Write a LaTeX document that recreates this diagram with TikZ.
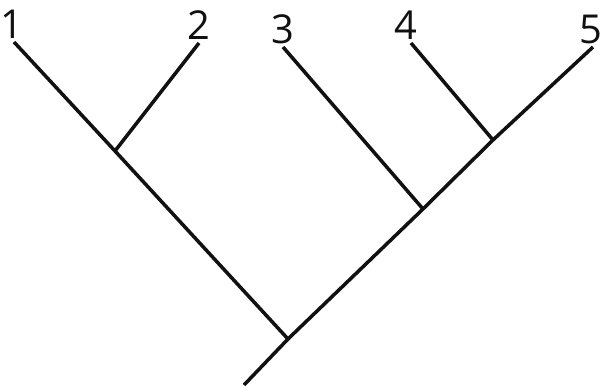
\documentclass[tikz,border=0pt]{standalone}
\usepackage{fontspec}
\setmainfont{Open Sans}
\usetikzlibrary{positioning}
\definecolor{cline}{HTML}{111111}

\begin{document}
\begin{tikzpicture}[x=0.03cm, y=-0.03cm,
    branch/.style={draw=cline, line width=3pt},
    taxon/.style={font=\fontsize{34}{34}\selectfont, inner sep=0pt, text=cline}]
  \useasboundingbox (0,0) rectangle (603,387);
  % tree points
  \coordinate (root) at (244,385);
  \coordinate (r)    at (288,339);
  \coordinate (a)    at (115,151);
  \coordinate (b)    at (423,209);
  \coordinate (c)    at (493,140);
  \coordinate (l1)   at (14,42);
  \coordinate (l2)   at (199,43);
  \coordinate (l3)   at (283,47);
  \coordinate (l4)   at (411,43);
  \coordinate (l5)   at (593,47);
  % branches
  \draw[branch] (root) -- (r);
  \draw[branch] (r) -- (a) -- (l1);
  \draw[branch] (a) -- (l2);
  \draw[branch] (r) -- (b) -- (c) -- (l5);
  \draw[branch] (b) -- (l3);
  \draw[branch] (c) -- (l4);
  % labels
  \node[taxon, above=0.1cm of l1, xshift=-2pt] (n1) {1};
  \node[taxon, above=0.1cm of l2] (n2) {2};
  \node[taxon, above=0.1cm of l3] (n3) {3};
  \node[taxon, above=0.1cm of l4, xshift=-4pt] (n4) {4};
  \node[taxon, above=0.1cm of l5, xshift=-2pt] (n5) {5};
\end{tikzpicture}
\end{document}
